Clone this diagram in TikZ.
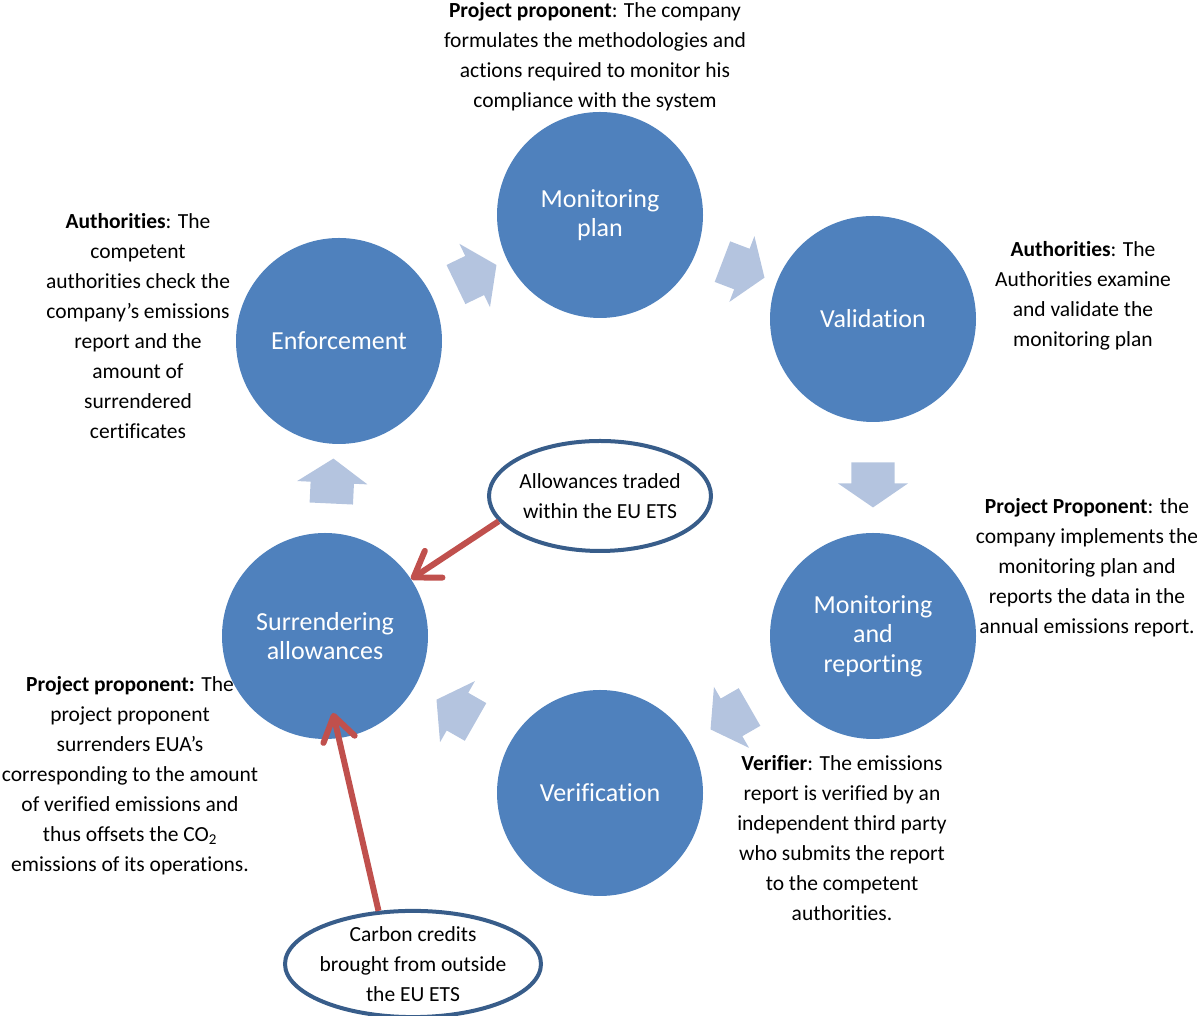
\documentclass[tikz,border=0pt]{standalone}
\usepackage{fontspec}
\setmainfont{Carlito}[Ligatures={NoCommon}]
\usetikzlibrary{arrows.meta,calc,shapes.geometric,shapes.arrows}
\definecolor{stageblue}{RGB}{79,129,189}
\definecolor{cyclefill}{RGB}{180,196,223}
\definecolor{ovalline}{RGB}{56,93,138}
\definecolor{creditred}{RGB}{192,80,77}

\begin{document}
\begin{tikzpicture}[x=1pt, y=1pt,
  stage/.style={circle, fill=stageblue, text=white, minimum size=206pt, inner sep=0pt, align=center, font=\fontsize{26}{29.5}\selectfont},
  note/.style={align=center, inner sep=0pt, font=\fontsize{21.5}{30}\selectfont},
  oval/.style={ellipse, draw=ovalline, line width=4pt, fill=white, inner xsep=-8pt, inner ysep=0pt, align=center, font=\fontsize{21.5}{30}\selectfont},
  flow/.style={single arrow, fill=cyclefill, text height=21.5pt, text depth=21.5pt, text width=0pt, minimum height=45pt, single arrow head extend=13.5pt, single arrow tip angle=111, inner sep=0pt, sloped, allow upside down},
  credit/.style={draw=creditred, line width=6pt, -{Straight Barb[length=24pt, width=32pt, round]}}]
  \useasboundingbox (0,0) rectangle (1197,1016);

  % cycle stages
  \node[stage] (mp) at (600,801) {Monitoring\\plan};
  \node[stage] (val) at (873,697) {Validation};
  \node[stage] (mr) at (873,380) {Monitoring\\and\\reporting};
  \node[stage] (ver) at (600,223) {Verification};
  \node[stage] (sur) at (325,380) {Surrendering\\allowances};
  \node[stage] (enf) at (339,675) {Enforcement};

  % block arrows between the stages
  \path (enf) -- (mp) node[flow, midway] (f1) {};
  \path (mp) -- (val) node[flow, midway] (f2) {};
  \path (val) -- (mr) node[flow, midway] (f3) {};
  \path (mr) -- (ver) node[flow, midway] (f4) {};
  \path (ver) -- (sur) node[flow, midway] (f5) {};
  \path (sur) -- (enf) node[flow, midway] (f6) {};

  % descriptions
  \node[note] (mpnote) at (595,959) {\textbf{Project proponent}: The company\\formulates the methodologies and\\actions required to monitor his\\compliance with the system};
  \node[note] (valnote) at (1083,720) {\textbf{Authorities}: The\\Authorities examine\\and validate the\\monitoring plan};
  \node[note] (mrnote) at (1087,448) {\textbf{Project Proponent}: the\\company implements the\\monitoring plan and\\reports the data in the\\annual emissions report.};
  \node[note] (vernote) at (842,178) {\textbf{Verifier}: The emissions\\report is verified by an\\independent third party\\who submits the report\\to the competent\\authorities.};
  \node[note] (surnote) at (130,240) {\textbf{Project proponent:} The\\project proponent\\surrenders EUA’s\\corresponding to the amount\\of verified emissions and\\thus offsets the CO\textsubscript{2}\\emissions of its operations.};
  \node[note] (enfnote) at (138,690) {\textbf{Authorities}: The\\competent\\authorities check the\\company’s emissions\\report and the\\amount of\\surrendered\\certificates};

  % sources of allowances
  \node[oval, minimum width=222pt, minimum height=110pt] (trade) at (600,520) {Allowances traded\\within the EU ETS};
  \node[oval, minimum width=256pt, minimum height=102pt] (carbon) at (413,52) {Carbon credits\\brought from outside\\the EU ETS};

  \coordinate (surin) at ($(sur)+(8,-77)$);
  \draw[credit] (trade.194) -- (sur);
  \draw[credit] (carbon.123) -- (surin);
\end{tikzpicture}
\end{document}
